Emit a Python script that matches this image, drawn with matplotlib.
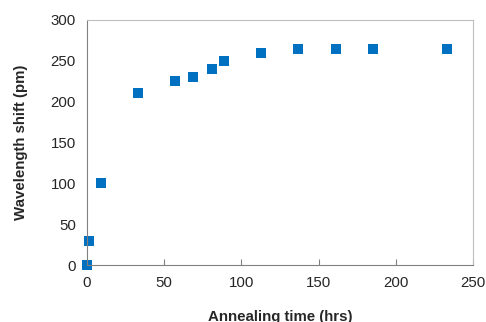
import matplotlib.pyplot as plt

plt.rcParams['font.family'] = ['Liberation Sans', 'DejaVu Sans']

# Donnees
temps_recuit = [0, 1, 9, 33, 57, 69, 81, 89, 113, 137, 161, 185, 233]
decalage_pm = [0, 30, 100, 210, 225, 230, 240, 250, 260, 265, 265, 265, 265]

fig = plt.figure(figsize=(4.86, 3.22), dpi=100)
ax = fig.add_axes([0.179, 0.177, 0.794, 0.761])

ax.plot(temps_recuit, decalage_pm, 's', color='#0070C0', markersize=6.8,
        markeredgewidth=0, clip_on=False)

ax.set_xlim(0, 250)
ax.set_ylim(0, 300)
ax.set_xticks([0, 50, 100, 150, 200, 250])
ax.set_yticks([0, 50, 100, 150, 200, 250, 300])

for cote in ['top', 'right']:
    ax.spines[cote].set_color('#BFBFBF')
    ax.spines[cote].set_linewidth(0.8)
for cote in ['bottom', 'left']:
    ax.spines[cote].set_color('#808080')
    ax.spines[cote].set_linewidth(0.8)

ax.tick_params(axis='x', direction='in', length=4, color='#808080',
               labelsize=10.8, labelcolor='#262626', pad=8)
ax.tick_params(axis='y', length=0, labelsize=10.8, labelcolor='#262626', pad=8)

ax.set_xlabel('Annealing time (hrs)', fontsize=10.8, fontweight='bold',
              color='#262626', labelpad=14)
ax.set_ylabel('Wavelength shift (pm)', fontsize=10.8, fontweight='bold',
              color='#262626', labelpad=16)

fig.savefig('out.png', dpi=100)
